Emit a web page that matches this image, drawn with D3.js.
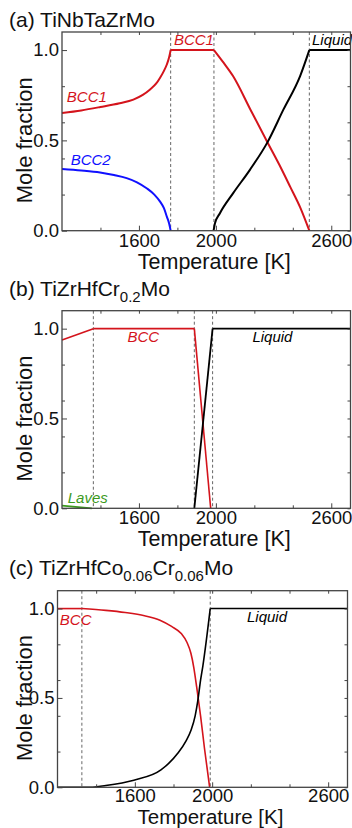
<!DOCTYPE html>
<html>
<head>
<meta charset="utf-8">
<script src="https://cdn.jsdelivr.net/npm/d3@7"></script>
<style>
  body { margin: 0; background: #fff; }
  svg { display: block; }
</style>
</head>
<body>
<svg id="chart"></svg>
<script>
// ---- data (temperature K, mole fraction) ----
const xMajor = [1600, 2000, 2600];
const xMinor = [1400, 1800, 2200, 2400];
const yMajor = [0, 0.5, 1.0];
const yMinor = [0.2, 0.4, 0.6, 0.8];

// (a) TiNbTaZrMo
const bcc1A = [
  [[1200,0.652],[1300,0.666],[1400,0.685],[1500,0.706],[1571,0.726],[1620,0.752],[1658,0.782],[1690,0.815],[1710,0.847],[1730,0.885],[1745,0.92],[1757,0.96],[1765,1.0]],
  [[1765,1.0],[1990,1.0]],
  [[1990,1.0],[2040,0.93],[2090,0.855],[2180,0.67],[2268,0.49],[2330,0.365],[2386,0.244],[2440,0.125],[2486,0]]
];
const bcc2A = [
  [[1200,0.341],[1300,0.333],[1398,0.322],[1470,0.308],[1536,0.291],[1590,0.268],[1640,0.235],[1680,0.2],[1710,0.161],[1730,0.125],[1745,0.078],[1757,0.04],[1765,0]]
];
const liquidA = [
  [[1988,0],[1995,0.04],[2021,0.097],[2090,0.208],[2177,0.337],[2268,0.489],[2351,0.67],[2438,0.856],[2486,1.0]],
  [[2486,1.0],[2700,1.0]]
];
const dashA = [1765, 1990, 2486];

// (b) TiZrHfCr0.2Mo
const bccB = [
  [[1200,0.937],[1363,1.0]],
  [[1363,1.0],[1888,1.0]],
  [[1888,1.0],[1973,0]]
];
const liquidB = [
  [[1888,0],[1983,1.0]],
  [[1983,1.0],[2700,1.0]]
];
const lavesB = [
  [[1200,0.015],[1355,0]]
];
const dashB = [1363, 1888, 1983];

// (c) TiZrHfCo0.06Cr0.06Mo
const bccC = [
  [[1200,1.0],[1326,1.0]],
  [[1326,1.0],[1450,0.99],[1550,0.978],[1650,0.96],[1730,0.935],[1790,0.9],[1840,0.86],[1870,0.81],[1890,0.75],[1905,0.67],[1920,0.56],[1940,0.40],[1960,0.22],[1987,0]]
];
const liquidC = [
  [[1200,0],[1370,0],[1450,0.01],[1595,0.04],[1735,0.097],[1822,0.19],[1865,0.26],[1891,0.32],[1912,0.40],[1926,0.486],[1940,0.6],[1952,0.68],[1990,1.0]],
  [[1990,1.0],[2700,1.0]]
];
const dashC = [1326, 1990];

// ---- layout ----
const width = 352, height = 828;
const red = '#d4141c', blue = '#1010ff', green = '#3c9a1e';
const font = '"Liberation Sans", Arial, sans-serif';

const svg = d3.select('#chart')
  .attr('width', width)
  .attr('height', height)
  .style('font-family', font);

const panels = [
  {
    title: [['(a) TiNbTaZrMo', 0]],
    left: 62, right: 350.5, top: 32, bottom: 230.7, titleY: 27, titleX: 9,
    xTitleDy: 38, xTitleSize: 21.5, tickPad: 3,
    series: [
      {segs: bcc1A, color: red, w: 2, smooth: true},
      {segs: bcc2A, color: blue, w: 2, smooth: true},
      {segs: liquidA, color: '#000', w: 2, smooth: true}
    ],
    dashes: dashA,
    labels: [
      {text: 'BCC1', t: 1225, v: 0.71, color: red},
      {text: 'BCC1', t: 1782, v: 1.03, color: red},
      {text: 'Liquid', t: 2500, v: 1.03, color: '#000'},
      {text: 'BCC2', t: 1245, v: 0.365, color: blue}
    ]
  },
  {
    title: [['(b) TiZrHfCr', 0], ['0.2', 1], ['Mo', 0]],
    left: 62, right: 350.5, top: 310.7, bottom: 508.3, titleY: 296, titleX: 9,
    xTitleDy: 38, xTitleSize: 21.5, tickPad: 3,
    series: [
      {segs: bccB, color: red, w: 1.6, smooth: false},
      {segs: liquidB, color: '#000', w: 1.8, smooth: false},
      {segs: lavesB, color: green, w: 1.8, smooth: false}
    ],
    dashes: dashB,
    labels: [
      {text: 'BCC', t: 1540, v: 0.925, color: red},
      {text: 'Liquid', t: 2190, v: 0.925, color: '#000'},
      {text: 'Laves', t: 1230, v: 0.03, color: green}
    ]
  },
  {
    title: [['(c) TiZrHfCo', 0], ['0.06', 1], ['Cr', 0], ['0.06', 1], ['Mo', 0]],
    left: 57.5, right: 347.5, top: 590.7, bottom: 787.3, titleY: 575, titleX: 9,
    xTitleDy: 36.5, xTitleSize: 20.5, tickPad: 1.5,
    series: [
      {segs: bccC, color: red, w: 1.6, smooth: true},
      {segs: liquidC, color: '#000', w: 1.6, smooth: true}
    ],
    dashes: dashC,
    labels: [
      {text: 'BCC', t: 1212, v: 0.91, color: red},
      {text: 'Liquid', t: 2180, v: 0.925, color: '#000'}
    ]
  }
];

panels.forEach(p => {
  const x = d3.scaleLinear().domain([1200, 2700]).range([p.left, p.right]);
  const y = d3.scaleLinear().domain([0, 1.1]).range([p.bottom, p.top]);
  const g = svg.append('g');

  // title with subscripts
  const title = g.append('text')
    .attr('x', p.titleX)
    .attr('y', p.titleY)
    .attr('font-size', 21)
    .attr('fill', '#111');
  let sub = 0;
  p.title.forEach(([txt, isSub]) => {
    const dy = isSub && !sub ? 6 : (!isSub && sub ? -6 : 0);
    title.append('tspan')
      .attr('dy', dy)
      .attr('font-size', isSub ? 15 : 21)
      .text(txt);
    sub = isSub;
  });

  // dashed phase boundaries
  g.selectAll('.dash')
    .data(p.dashes)
    .enter()
    .append('line')
    .attr('x1', d => x(d))
    .attr('x2', d => x(d))
    .attr('y1', p.top)
    .attr('y2', p.bottom)
    .attr('stroke', '#666')
    .attr('stroke-width', 1)
    .attr('stroke-dasharray', '3,2.5');

  // curves
  p.series.forEach(s => {
    const line = d3.line()
      .x(d => x(d[0]))
      .y(d => y(d[1]))
      .curve(s.smooth ? d3.curveMonotoneX : d3.curveLinear);
    s.segs.forEach(seg => {
      g.append('path')
        .attr('d', line(seg))
        .attr('fill', 'none')
        .attr('stroke', s.color)
        .attr('stroke-width', s.w)
        .attr('stroke-linejoin', 'round');
    });
  });

  // phase labels
  p.labels.forEach(l => {
    g.append('text')
      .attr('x', x(l.t))
      .attr('y', y(l.v))
      .attr('font-size', 15)
      .attr('font-style', 'italic')
      .attr('fill', l.color)
      .text(l.text);
  });

  // axes, ticks pointing inwards
  const styleAxis = sel => {
    sel.select('.domain').remove();
    sel.selectAll('line').attr('stroke', '#444');
    sel.selectAll('text').attr('font-size', 18.5).attr('fill', '#111').attr('font-family', font);
  };

  g.append('g')
    .attr('transform', `translate(0,${p.bottom})`)
    .call(d3.axisBottom(x).tickValues(xMajor).tickSize(-5).tickPadding(p.tickPad).tickFormat(d3.format('d')))
    .call(styleAxis);
  g.append('g')
    .attr('transform', `translate(0,${p.bottom})`)
    .call(d3.axisBottom(x).tickValues(xMinor).tickSize(-3).tickFormat(''))
    .call(styleAxis);
  g.append('g')
    .attr('transform', `translate(0,${p.top})`)
    .call(d3.axisTop(x).tickValues(xMajor.concat(xMinor)).tickSize(-3).tickFormat(''))
    .call(styleAxis);

  g.append('g')
    .attr('transform', `translate(${p.left},0)`)
    .call(d3.axisLeft(y).tickValues(yMajor).tickSize(-5).tickPadding(3).tickFormat(d3.format('.1f')))
    .call(styleAxis);
  g.append('g')
    .attr('transform', `translate(${p.left},0)`)
    .call(d3.axisLeft(y).tickValues(yMinor).tickSize(-3).tickFormat(''))
    .call(styleAxis);
  g.append('g')
    .attr('transform', `translate(${p.right},0)`)
    .call(d3.axisRight(y).tickValues(yMajor.concat(yMinor)).tickSize(-3).tickFormat(''))
    .call(styleAxis);

  // frame
  g.append('rect')
    .attr('x', p.left)
    .attr('y', p.top)
    .attr('width', p.right - p.left)
    .attr('height', p.bottom - p.top)
    .attr('fill', 'none')
    .attr('stroke', '#444')
    .attr('stroke-width', 1.3);

  // axis titles
  g.append('text')
    .attr('x', (p.left + p.right) / 2 + 8)
    .attr('y', p.bottom + p.xTitleDy)
    .attr('text-anchor', 'middle')
    .attr('font-size', p.xTitleSize)
    .attr('fill', '#111')
    .text('Temperature [K]');
  g.append('text')
    .attr('transform', `translate(32,${(p.top + p.bottom) / 2 + 9}) rotate(-90)`)
    .attr('text-anchor', 'middle')
    .attr('font-size', 22)
    .attr('fill', '#111')
    .text('Mole fraction');
});
</script>
</body>
</html>
